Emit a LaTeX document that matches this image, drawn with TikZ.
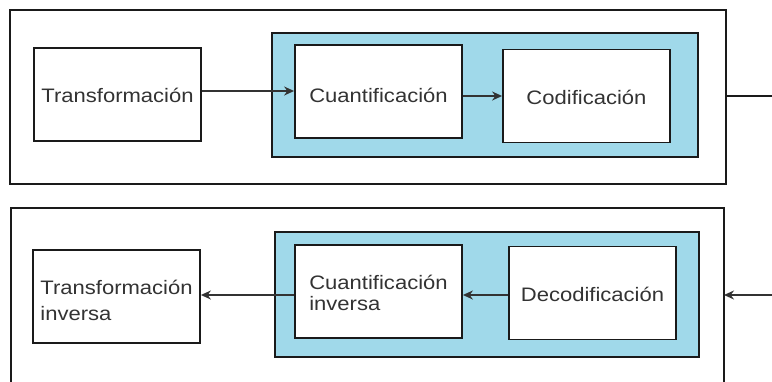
\documentclass[tikz,border=0pt]{standalone}
\usepackage{fontspec}
\setmainfont[FakeStretch=1.13]{Liberation Sans}
\usetikzlibrary{arrows.meta}
\definecolor{stageblue}{HTML}{A0D9EA}
\definecolor{inkgray}{HTML}{333333}
\definecolor{edgegray}{HTML}{1A1A1A}
\tikzset{
  x=1pt, y=-1pt,
  frame/.style={draw=edgegray, line width=1.4pt},
  panel/.style={draw=edgegray, line width=1.8pt, fill=stageblue},
  stagebox/.style={draw=edgegray, line width=1.8pt, fill=white,
    minimum width=167pt, minimum height=93pt, inner sep=0pt,
    align=left, text=inkgray,
    font=\fontsize{19.5}{26}\selectfont},
  % last baseline sits half of #1 below the box centre
  baseline at/.style={text depth=0pt, text height=#1},
  flow/.style={draw=inkgray, line width=1.6pt,
    -{Stealth[length=10pt, width=9pt]}},
}
\begin{document}
\begin{tikzpicture}
\useasboundingbox (0,0) rectangle (772,381);
\clip (0,0) rectangle (772,381);
\fill[white] (0,0) rectangle (772,381);

% encoder chain
\draw[frame] (10,10) rectangle (726,184);
\draw[panel] (272,33) rectangle (698,157);
\node[stagebox, baseline at=15pt] (tr) at (117.5,94.5) {Transformación};
\node[stagebox, baseline at=21pt] (cu) at (378.5,91.5) {Cuantificación};
\node[stagebox, baseline at=16pt] (co) at (586.5,96) {Codificación};
\coordinate (outE) at (726,96);
\coordinate (outEnd) at (772,96);
\draw[flow] (tr.east |- 0,91) -- (cu.west |- 0,91);
\draw[flow] (cu.east |- 0,96) -- (co.west |- 0,96);
\draw[draw=edgegray, line width=1.4pt] (outE) -- (outEnd);

% decoder chain
\draw[frame] (11,208) rectangle (724,400);
\draw[panel] (275,232) rectangle (699,357);
\node[stagebox, baseline at=47pt] (ti) at (116.5,296.5) {Transformación\\inversa};
\node[stagebox, font=\fontsize{19.5}{21}\selectfont, baseline at=37pt] (ci)
  at (378.5,291.5) {Cuantificación\\inversa};
\node[stagebox, baseline at=17pt] (de) at (592.5,293) {Decodificación};
\coordinate (inS) at (772,295);
\coordinate (inE) at (724,295);
\draw[flow] (inS) -- (inE);
\draw[flow] (de.west |- 0,295) -- (ci.east |- 0,295);
\draw[flow] (ci.west |- 0,295) -- (ti.east |- 0,295);
\end{tikzpicture}
\end{document}
